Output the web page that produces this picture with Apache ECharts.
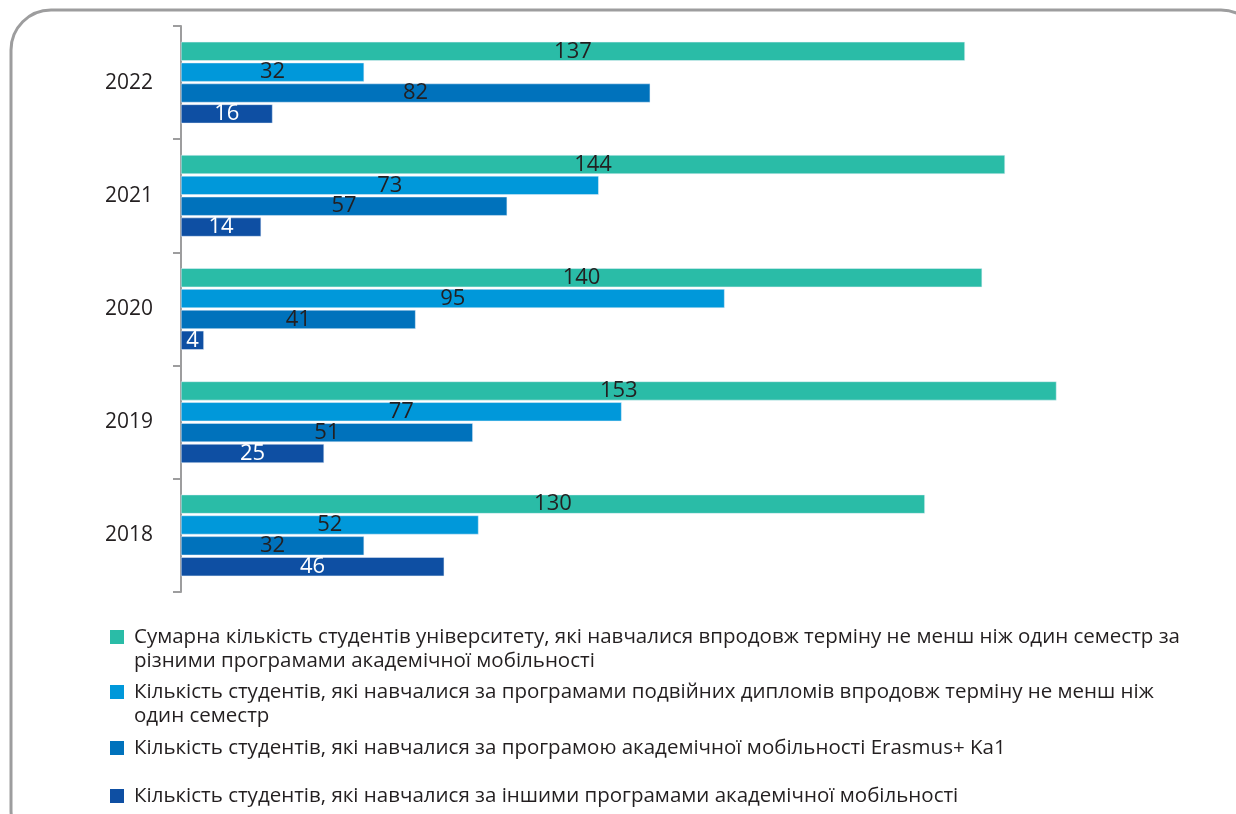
<!DOCTYPE html>
<html>
<head>
<meta charset="utf-8">
<script src="https://cdn.jsdelivr.net/npm/echarts@6/dist/echarts.min.js"></script>
<style>
  html, body { margin: 0; padding: 0; background: #fff; }
  #chart { width: 1236px; height: 814px; }
</style>
</head>
<body>
<div id="chart"></div>
<script>
const years = ['2022', '2021', '2020', '2019', '2018'];
const totalMobility = [137, 144, 140, 153, 130];
const doubleDegree = [32, 73, 95, 77, 52];
const erasusKa1 = [82, 57, 41, 51, 32];
const otherPrograms = [16, 14, 4, 25, 46];

const seriesNames = [
  'Сумарна кількість студентів університету, які навчалися впродовж терміну не менш ніж один семестр за\nрізними програмами академічної мобільності',
  'Кількість студентів, які навчалися за програмами подвійних дипломів впродовж терміну не менш ніж\nодин семестр',
  'Кількість студентів, які навчалися за програмою академічної мобільності Erasmus+ Ka1',
  'Кількість студентів, які навчалися за іншими програмами академічної мобільності'
];
const colors = ['#2abca7', '#0098da', '#0072bc', '#0e4fa3'];
const labelColors = ['#231f20', '#231f20', '#231f20', '#ffffff'];
const seriesData = [totalMobility, doubleDegree, erasusKa1, otherPrograms];

const FONT = '"Open Sans", sans-serif';

const chart = echarts.init(document.getElementById('chart'));

// one legend per entry so the marker sits on the first text line
const legendTops = [601, 656, 736, 784];
const legends = seriesNames.map((name, i) => ({
  data: [name],
  orient: 'vertical',
  left: 110,
  top: legendTops[i],
  padding: 0,
  itemWidth: 14,
  itemHeight: 14,
  icon: 'rect',
  selectedMode: false,
  itemStyle: { borderWidth: 0 },
  formatter: n => n.indexOf('\n') >= 0 ? ' \n' + n : n,
  textStyle: {
    fontFamily: FONT,
    fontSize: 20.5,
    color: '#231f20',
    lineHeight: 24,
    padding: [0, 0, 0, 5]
  }
}));

chart.setOption({
  animation: false,
  backgroundColor: '#fff',
  graphic: [{
    type: 'rect',
    shape: { x: 11, y: 10, width: 1250, height: 840, r: 40 },
    style: { fill: 'none', stroke: '#9d9d9e', lineWidth: 3 },
    z: 0
  }],
  legend: legends,
  grid: {
    left: 181,
    right: 25,
    top: 26,
    height: 566
  },
  xAxis: {
    type: 'value',
    min: 0,
    max: 180,
    show: false
  },
  yAxis: {
    type: 'category',
    data: years,
    inverse: true,
    axisLine: { show: true, lineStyle: { color: '#9d9d9e', width: 2 } },
    axisTick: { show: true, length: 8, lineStyle: { color: '#9d9d9e', width: 2 } },
    axisLabel: {
      margin: 28,
      fontFamily: FONT,
      fontSize: 21,
      color: '#231f20'
    }
  },
  series: seriesData.map((data, i) => ({
    name: seriesNames[i],
    type: 'bar',
    data: data,
    barGap: '10%',
    barCategoryGap: '28%',
    itemStyle: { color: colors[i], borderColor: '#e8f0f8', borderWidth: 0.5 },
    label: {
      show: true,
      position: 'inside',
      fontFamily: FONT,
      fontSize: 22,
      color: labelColors[i],
      textBorderWidth: 0
    }
  }))
});
</script>
</body>
</html>
